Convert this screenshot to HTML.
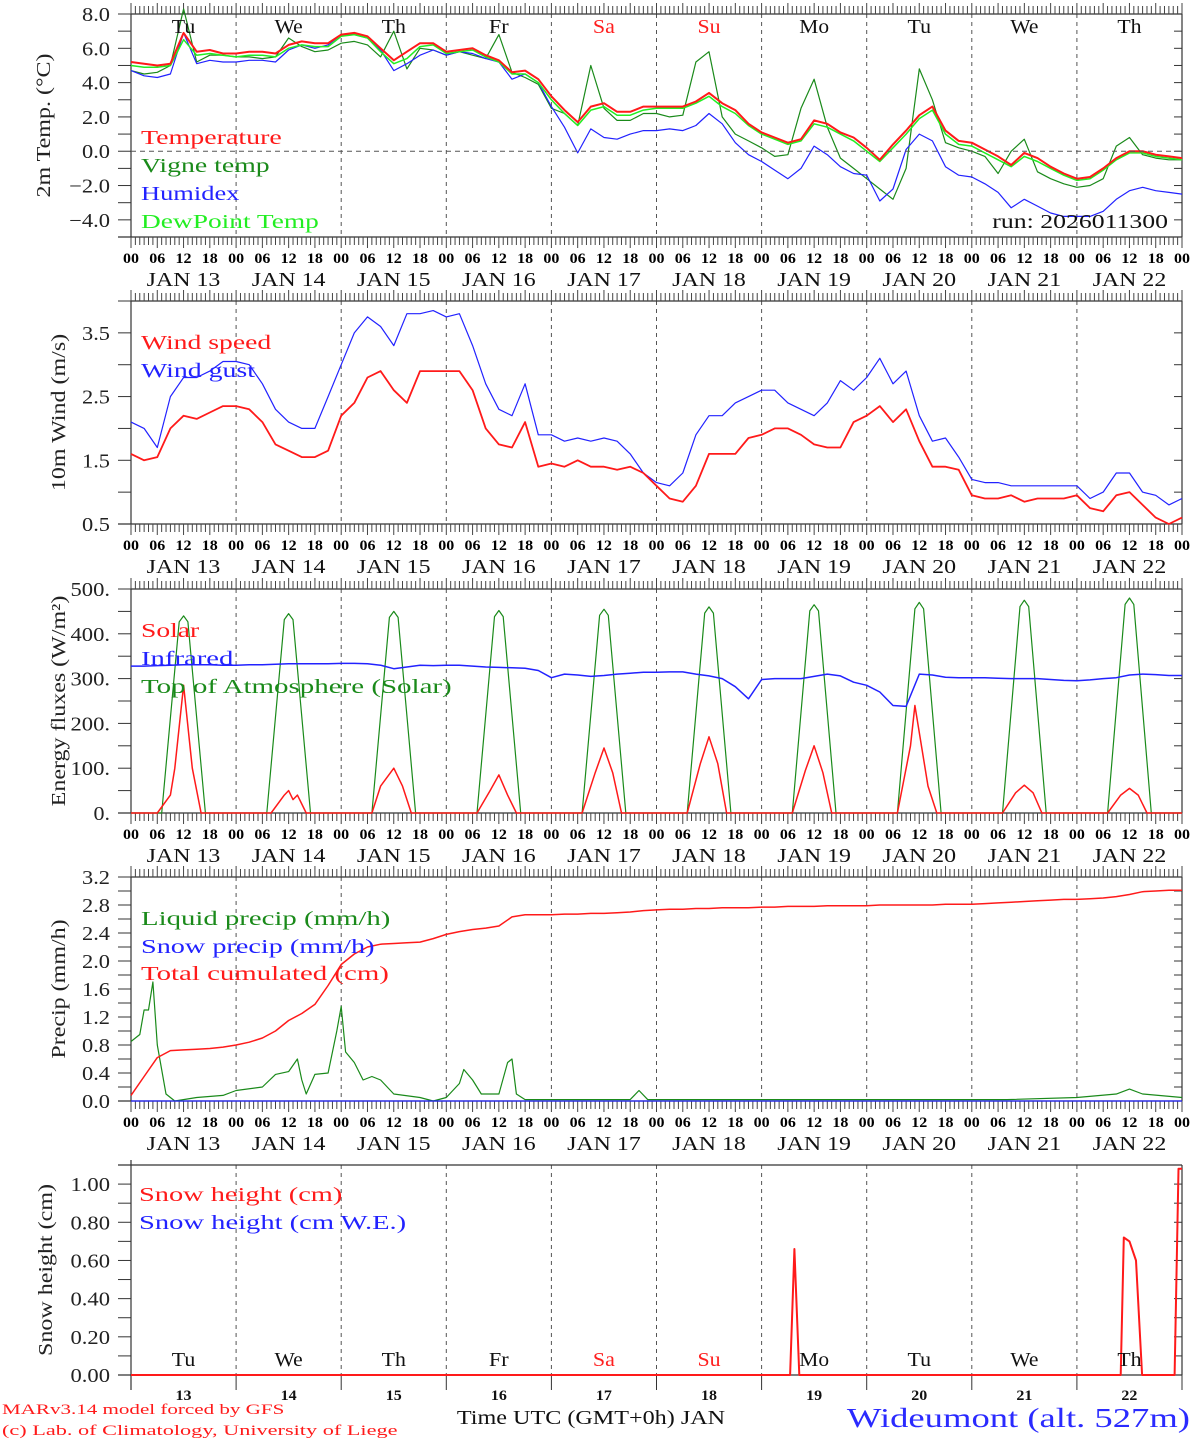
<!DOCTYPE html>
<html><head><meta charset="utf-8"><style>
html,body{margin:0;padding:0;background:#fff;}
svg{display:block;font-family:"Liberation Serif",serif;}
</style></head><body>
<svg id="chart" width="1194" height="1440" xmlns="http://www.w3.org/2000/svg"></svg>
<script>
// ---------- DATA (3-hourly from JAN 13 00UTC, 81 points) ----------
const days = ["13","14","15","16","17","18","19","20","21","22"];
const dayNames = ["Tu","We","Th","Fr","Sa","Su","Mo","Tu","We","Th"];
const tempVals = [5.2,5.1,5.0,5.1,6.9,5.8,5.9,5.7, 5.7,5.8,5.8,5.7,6.2,6.4,6.3,6.3, 6.8,6.9,6.7,6.0,5.3,5.8,6.3,6.3, 5.8,5.9,6.0,5.6,5.3,4.6,4.7,4.2, 3.2,2.4,1.7,2.6,2.8,2.3,2.3,2.6, 2.6,2.6,2.6,2.9,3.4,2.8,2.4,1.6, 1.1,0.8,0.5,0.7,1.8,1.6,1.1,0.8, 0.2,-0.5,0.4,1.2,2.1,2.6,1.2,0.6, 0.5,0.1,-0.3,-0.8,-0.1,-0.4,-0.9,-1.3, -1.6,-1.5,-1.0,-0.4,0.0,0.0,-0.2,-0.3,-0.4];
const dewVals = [5.0,4.9,4.9,5.0,6.5,5.6,5.7,5.6, 5.5,5.6,5.6,5.5,6.0,6.2,6.1,6.1, 6.7,6.8,6.6,5.8,5.1,5.4,6.1,6.2, 5.7,5.8,5.9,5.5,5.2,4.5,4.5,4.0, 3.0,2.2,1.5,2.4,2.6,2.1,2.1,2.4, 2.5,2.5,2.5,2.8,3.2,2.6,2.2,1.5, 1.0,0.7,0.4,0.6,1.6,1.4,1.0,0.6, 0.0,-0.6,0.2,1.0,1.9,2.4,1.0,0.4, 0.3,-0.1,-0.5,-0.9,-0.3,-0.6,-1.0,-1.4, -1.7,-1.6,-1.1,-0.5,-0.1,-0.1,-0.3,-0.4,-0.5];
const vigneVals = [4.7,4.5,4.6,5.0,8.3,5.2,5.6,5.6, 5.5,5.5,5.4,5.5,6.6,6.1,5.8,5.9, 6.3,6.4,6.2,5.5,7.0,4.8,6.0,5.9, 5.6,5.8,5.6,5.4,6.8,4.6,4.3,3.9, 2.5,2.2,1.5,5.0,2.5,1.8,1.8,2.2, 2.2,2.0,2.1,5.2,5.8,2.0,1.0,0.6, 0.2,-0.3,-0.2,2.5,4.2,1.4,-0.4,-1.0, -1.6,-2.2,-2.8,-1.0,4.8,3.0,0.5,0.2, 0.0,-0.3,-1.3,0.0,0.7,-1.2,-1.6,-1.9, -2.1,-2.0,-1.6,0.3,0.8,-0.2,-0.4,-0.5,-0.5];
const humidexVals = [4.7,4.4,4.3,4.5,6.9,5.1,5.3,5.2, 5.2,5.3,5.3,5.2,5.9,6.2,6.0,6.2, 6.8,6.8,6.6,5.9,4.7,5.1,5.6,5.9, 5.6,5.8,5.7,5.4,5.2,4.2,4.5,4.0, 2.6,1.4,-0.1,1.3,0.8,0.7,1.0,1.2, 1.2,1.3,1.2,1.5,2.2,1.6,0.5,-0.2, -0.6,-1.1,-1.6,-1.0,0.3,-0.2,-0.9,-1.3, -1.4,-2.9,-2.2,0.1,1.0,0.6,-0.9,-1.4, -1.5,-1.9,-2.4,-3.3,-2.8,-3.2,-3.6,-3.8, -3.8,-3.8,-3.5,-2.8,-2.3,-2.1,-2.3,-2.4,-2.5];
const windVals = [1.6,1.5,1.55,2.0,2.2,2.15,2.25,2.35, 2.35,2.3,2.1,1.75,1.65,1.55,1.55,1.65, 2.2,2.4,2.8,2.9,2.6,2.4,2.9,2.9, 2.9,2.9,2.6,2.0,1.75,1.7,2.1,1.4, 1.45,1.4,1.5,1.4,1.4,1.35,1.4,1.3, 1.1,0.9,0.85,1.1,1.6,1.6,1.6,1.85, 1.9,2.0,2.0,1.9,1.75,1.7,1.7,2.1, 2.2,2.35,2.1,2.3,1.8,1.4,1.4,1.35, 0.95,0.9,0.9,0.95,0.85,0.9,0.9,0.9, 0.95,0.75,0.7,0.95,1.0,0.8,0.6,0.5,0.6];
const gustVals = [2.1,2.0,1.7,2.5,2.8,2.8,2.9,3.05, 3.05,3.0,2.7,2.3,2.1,2.0,2.0,2.5, 3.0,3.5,3.75,3.6,3.3,3.8,3.8,3.85, 3.75,3.8,3.3,2.7,2.3,2.2,2.7,1.9, 1.9,1.8,1.85,1.8,1.85,1.8,1.6,1.3, 1.15,1.1,1.3,1.9,2.2,2.2,2.4,2.5, 2.6,2.6,2.4,2.3,2.2,2.4,2.75,2.6, 2.8,3.1,2.7,2.9,2.2,1.8,1.85,1.55, 1.2,1.15,1.15,1.1,1.1,1.1,1.1,1.1, 1.1,0.9,1.0,1.3,1.3,1.0,0.95,0.8,0.9];
const infraredVals = [328,328,329,330,331,331,331,330, 330,331,331,332,333,333,333,333, 334,334,333,330,322,326,330,329, 330,330,328,326,325,324,323,318, 302,310,308,305,307,310,312,314, 314,315,315,310,306,300,282,255, 298,300,300,300,305,310,306,292, 285,270,240,238,310,308,303,302, 302,302,301,300,300,300,298,296, 295,297,300,302,308,310,309,307,307];
const cumulVals = [0.08,0.35,0.62,0.72,0.73,0.74,0.75,0.77, 0.80,0.84,0.90,1.00,1.15,1.25,1.38,1.65, 1.95,2.10,2.20,2.24,2.25,2.26,2.27,2.32, 2.38,2.42,2.45,2.47,2.50,2.63,2.66,2.66, 2.66,2.67,2.67,2.68,2.68,2.69,2.70,2.72, 2.73,2.74,2.74,2.75,2.75,2.76,2.76,2.76, 2.77,2.77,2.78,2.78,2.78,2.79,2.79,2.79, 2.79,2.80,2.80,2.80,2.80,2.80,2.81,2.81, 2.81,2.82,2.83,2.84,2.85,2.86,2.87,2.88, 2.88,2.89,2.90,2.92,2.95,2.99,3.00,3.01,3.01];
// Irregular-time series (hours since JAN 13 00UTC)
const liquidT = [0,2,3,4,5,6,8,10,15,21,24,30,33,36,38,39,40,42,45,47,48,49,51,53,55,57,60,66,69,72,75,76,78,80,84,86,87,88,90,114,116,118,120,200,216,225,228,231,240];
const liquidV = [0.85,0.95,1.3,1.3,1.7,0.8,0.1,0,0.05,0.08,0.15,0.2,0.38,0.42,0.6,0.3,0.1,0.38,0.4,1.0,1.35,0.7,0.55,0.3,0.35,0.3,0.1,0.05,0,0.05,0.25,0.45,0.3,0.1,0.1,0.55,0.6,0.1,0.02,0.02,0.15,0.02,0.02,0.02,0.05,0.1,0.17,0.1,0.05];
const snowPrT = [0,240];
const snowPrV = [0,0];
const solarT = [0,6,9,10,12,14,16, 32,35,36,37,38,40, 55,57,60,62,64, 79,82,84,86,88, 103,106,108,110,112, 127,130,132,134,136, 151,154,156,158,160, 175,178,179,182,184, 199,202,204,206,208, 223,226,228,230,232,240];
const solarV = [0,0,40,100,285,100,0, 0,40,50,30,40,0, 0,60,100,60,0, 0,50,85,40,0, 0,90,145,90,0, 0,110,170,110,0, 0,95,150,90,0, 0,150,240,60,0, 0,45,62,45,0, 0,40,55,40,0,0];
const toaPeak = [440,445,450,452,455,460,465,470,475,480];
const snowT = [0,150.5,151.5,152.6,226,226.7,228,229.5,230.9,238.3,239.2,240];
const snowV = [0,0,0.66,0,0,0.72,0.70,0.6,0,0,1.08,1.08];
const yTicks1 = ["8.0","6.0","4.0","2.0","0.0","\u22122.0","\u22124.0"];
const yTicks2 = ["3.5","2.5","1.5","0.5"];
const yTicks3 = ["500.","400.","300.","200.","100.","0."];
const yTicks4 = ["3.2","2.8","2.4","2.0","1.6","1.2","0.8","0.4","0.0"];
const yTicks5 = ["1.00","0.80","0.60","0.40","0.20","0.00"];

// ---------- RENDER ----------
const NS="http://www.w3.org/2000/svg";
const svg=document.getElementById('chart');
const X0=131, X1=1182;
const X=t=>X0+t*(X1-X0)/240;
function el(tag,attrs,parent){const e=document.createElementNS(NS,tag);for(const k in attrs)e.setAttribute(k,attrs[k]);(parent||svg).appendChild(e);return e;}
function txt(s,x,y,size,color,anchor,parent,ls){
 const e=el('text',{x:x,y:y,'font-size':size,fill:color||'#000','text-anchor':anchor||'start'},parent);
 e.textContent=s;
 if(ls){
  let w=0;try{w=e.getComputedTextLength();}catch(err){w=0;}
  if(w>0){const L=w+parseFloat(ls)*(s.length-1);e.setAttribute('textLength',L.toFixed(1));e.setAttribute('lengthAdjust','spacingAndGlyphs');}
  else e.setAttribute('letter-spacing',ls);
 }
 return e;}
const panels=[
 {name:'temperature-panel',top:14,bot:237,vmax:8,vmin:-5,labels:yTicks1,lmax:8,lstep:2,mstep:1,ylab:'2m Temp. (\u00B0C)'},
 {name:'wind-panel',top:301,bot:524,vmax:4.0,vmin:0.5,labels:yTicks2,lmax:3.5,lstep:1,mstep:0.5,ylab:'10m Wind (m/s)'},
 {name:'energy-panel',top:589,bot:813,vmax:500,vmin:0,labels:yTicks3,lmax:500,lstep:100,mstep:50,ylab:'Energy fluxes (W/m\u00B2)'},
 {name:'precip-panel',top:877,bot:1101,vmax:3.2,vmin:0,labels:yTicks4,lmax:3.2,lstep:0.4,mstep:0.2,ylab:'Precip (mm/h)'},
 {name:'snow-panel',top:1165,bot:1375,vmax:1.1,vmin:0,labels:yTicks5,lmax:1.0,lstep:0.2,mstep:0.1,ylab:'Snow height (cm)'}
];
panels.forEach(p=>{p.Y=v=>p.bot-(v-p.vmin)*(p.bot-p.top)/(p.vmax-p.vmin);});

panels.forEach((p,pi)=>{
 const g=el('g',{});
 
 
 for(let d=1;d<10;d++){el('line',{x1:X(d*24),x2:X(d*24),y1:p.top,y2:p.bot,stroke:'#555','stroke-dasharray':'4,4','stroke-width':1},g);}
 el('line',{x1:X0,x2:X0,y1:p.top-(pi==4?5:0),y2:p.bot+(pi==4?15:0),stroke:'#333','stroke-width':1.2},g);
 el('line',{x1:X1,x2:X1,y1:p.top,y2:p.bot,stroke:'#333','stroke-width':1.2},g);
 el('line',{x1:pi==4?118:X0,x2:X1,y1:p.top,y2:p.top,stroke:'#333','stroke-width':1.2},g);
 el('line',{x1:118,x2:X1,y1:p.bot,y2:p.bot,stroke:'#333','stroke-width':1.2},g);
 const nM=Math.round((p.vmax-p.vmin)/p.mstep);
 for(let i=0;i<=nM;i++){const v=p.vmin+i*p.mstep;const y=p.Y(v);if(y<p.top-0.5)continue;
  el('line',{x1:118,x2:X0,y1:y,y2:y,stroke:'#333','stroke-width':1},g);
  el('line',{x1:X1-8,x2:X1,y1:y,y2:y,stroke:'#333','stroke-width':1},g);}
 p.labels.forEach((s,i)=>{const v=p.lmax-i*p.lstep;
  const t=txt(s,110,p.Y(v)+7,20,'#222','end',g,'1.5');
  });
 const yc=(p.top+p.bot)/2;
 const yt=el('text',{x:0,y:0,'font-size':20,fill:'#222','text-anchor':'middle',transform:`translate(${pi==0?50:(pi==4?52:65)},${yc}) rotate(-90)`},g);
 yt.textContent=p.ylab;
 try{const w=yt.getComputedTextLength();if(w>0){yt.setAttribute('textLength',(w*1.2).toFixed(1));yt.setAttribute('lengthAdjust','spacingAndGlyphs');}}catch(e){}
 
 
 if(pi<4){
  for(let h=0;h<=240;h++){const x=X(h);const len=(h%6==0)?11:8;
   el('line',{x1:x,x2:x,y1:p.top,y2:p.top-len,stroke:'#444','stroke-width':1},g);
   el('line',{x1:x,x2:x,y1:p.bot,y2:p.bot+len,stroke:'#444','stroke-width':1},g);}
  for(let h=0;h<=240;h+=6){const s=String(h%24).padStart(2,'0');txt(s,X(h),p.bot+26,15,'#000','middle',g,'1').setAttribute('font-weight','bold');}
  days.forEach((d,i)=>{const t=txt('JAN  '+d,X(i*24+12),p.bot+49,20,'#111','middle',g,'2');t.setAttribute('xml:space','preserve');});
 } else {
  for(let d=0;d<=10;d++){el('line',{x1:X(d*24),x2:X(d*24),y1:p.bot,y2:p.bot+15,stroke:'#333','stroke-width':1},g);}
 }
});
function line(p,T,V,color,w,name){
 const pts=T.map((t,i)=>X(t).toFixed(1)+','+p.Y(V[i]).toFixed(1)).join(' ');
 const e=el('polyline',{points:pts,fill:'none',stroke:color,'stroke-width':w,'stroke-linejoin':'round'});
 
 
 return e;}
const T3=tempVals.map((_,i)=>i*3);
const P=panels;
line(P[0],T3,vigneVals,'#1a8a1a',1.2,'vigne-temp-line');
line(P[0],T3,humidexVals,'#2222ff',1.2,'humidex-line');
line(P[0],T3,dewVals,'#22ee22',1.5,'dewpoint-line');
line(P[0],T3,tempVals,'#ff1a1a',2,'temperature-line');
el('line',{x1:X0,x2:X1,y1:P[0].Y(0),y2:P[0].Y(0),stroke:'#555','stroke-dasharray':'5,4'});
line(P[1],T3,gustVals,'#2222ff',1.2,'wind-gust-line');
line(P[1],T3,windVals,'#ff1a1a',1.8,'wind-speed-line');
const toaT=[],toaV=[];
toaPeak.forEach((pk,d)=>{[[7,0],[11,0.97],[12,1],[13,0.97],[17,0]].forEach(q=>{toaT.push(d*24+q[0]);toaV.push(pk*q[1]);});});
toaT.unshift(0);toaV.unshift(0);toaT.push(240);toaV.push(0);
line(P[2],toaT,toaV,'#1a8a1a',1.2,'toa-solar-line');
line(P[2],T3,infraredVals,'#2222ff',1.5,'infrared-line');
line(P[2],solarT,solarV,'#ff1a1a',1.5,'solar-line');
line(P[3],liquidT,liquidV,'#1a8a1a',1.2,'liquid-precip-line');
line(P[3],snowPrT,snowPrV,'#2222ff',1.2,'snow-precip-line');
line(P[3],T3,cumulVals,'#ff1a1a',1.5,'cumulated-precip-line');
line(P[4],snowT,snowV,'#ff1a1a',2,'snow-height-line');
dayNames.forEach((d,i)=>{const c=(i==4||i==5)?'#ff2020':'#111';
 const a=txt(d,X(i*24+12),33,20,c,'middle',null,'2');
 const b=txt(d,X(i*24+12),1366,20,c,'middle',null,'2');
 const n=txt(days[i],X(i*24+12),1400,15,'#111','middle',null,'1');n.setAttribute('font-weight','bold');});
function leg(s,x,y,c){const t=txt(s,x,y,20,c,'start',null,'4');t.setAttribute('xml:space','preserve');}
leg('Temperature',141,144,'#ff1a1a');leg('Vigne temp',141,172,'#1a8a1a');leg('Humidex',141,200,'#2222ff');leg('DewPoint Temp',141,228,'#22ee22');
leg('Wind speed',141,349,'#ff1a1a');leg('Wind gust',141,377,'#2222ff');
leg('Solar',141,637,'#ff1a1a');leg('Infrared',141,665,'#2222ff');leg('Top of Atmosphere (Solar)',141,693,'#1a8a1a');
leg('Liquid precip (mm/h)',141,925,'#1a8a1a');leg('Snow precip (mm/h)',141,953,'#2222ff');leg('Total cumulated (cm)',141,980,'#ff1a1a');
leg('Snow height (cm)',139,1201,'#ff1a1a');leg('Snow height (cm W.E.)',139,1229,'#2222ff');
const run=txt('run: 2026011300',1168,228,20,'#111','end',null,'2.8');
const xt=txt('Time UTC (GMT+0h) JAN',591,1424,20,'#111','middle',null,'2.3');
const st=txt('Wideumont (alt. 527m)',1190,1427,27,'#2a2aff','end',null,'4.5');
const c1=txt('MARv3.14 model forced by GFS',2,1414,15,'#ff1a1a','start',null,'3');
const c2=txt('(c) Lab. of Climatology, University of Liege',2,1435,15,'#ff1a1a','start',null,'3');
</script>
</body></html>
